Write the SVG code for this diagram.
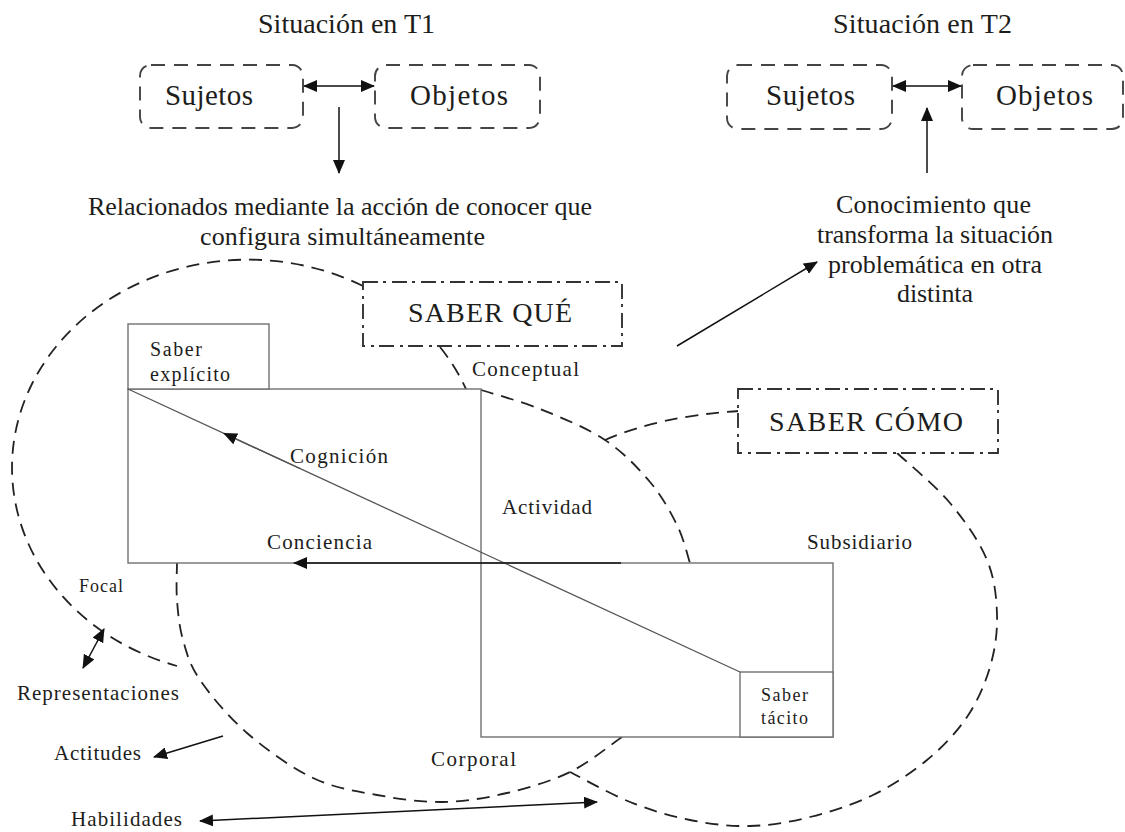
<svg xmlns="http://www.w3.org/2000/svg" width="1125" height="832" viewBox="0 0 1125 832">
<style>
text { font-family: "Liberation Serif", "Times New Roman", serif; fill: #1d1d1b; }
.dash { fill: none; stroke: #222; stroke-width: 1.8; stroke-dasharray: 13 8; }
.tb { fill: #fff; stroke: #444; stroke-width: 1.9; stroke-dasharray: 14 9; }
.dd { fill: #fff; stroke: #333; stroke-width: 1.9; stroke-dasharray: 15 5 3 6; }
.box { fill: #fff; stroke: #707070; stroke-width: 1.4; }
.ln { fill: none; stroke: #111; stroke-width: 1.5; }
.gl { fill: none; stroke: #555; stroke-width: 1.3; }
.t29 { font-size: 29px; }
.t28 { font-size: 28px; }
.t26 { font-size: 26px; }
.t21 { font-size: 21px; }
.t20 { font-size: 20px; }
.t18 { font-size: 18px; }
</style>
<defs>
<marker id="ah" viewBox="0 0 14 12" refX="13" refY="6" markerWidth="14" markerHeight="12" markerUnits="userSpaceOnUse" orient="auto-start-reverse">
<path d="M0,0 L14,6 L0,12 z" fill="#111"/>
</marker>
</defs>
<rect width="1125" height="832" fill="#fff"/>

<g id="circles">
<path class="dash" d="M363,286 A236,208 0 1 0 177,666"/>
<path class="dash" d="M440,347 A236,208 0 0 1 466,389"/>
<path class="dash" d="M481,390 C490.8,393.2 519.3,400.7 540,409 C560.7,417.3 586.7,427.8 605,440 C623.3,452.2 638,467.8 650,482 C662,496.2 670.3,511.5 677,525 C683.7,538.5 687.8,556.7 690,563"/>
<path class="dash" d="M622,737 C613.3,742.8 589.2,762.7 570,772 C550.8,781.3 528.2,788 507,793 C485.8,798 464.7,801.7 443,802 C421.3,802.3 398.7,799 377,795 C355.3,791 334.7,788.3 313,778 C291.3,767.7 265.8,749.3 247,733 C228.2,716.7 210.7,695.5 200,680 C189.3,664.5 186.8,653.3 183,640 C179.2,626.7 178,612.8 177,600 C176,587.2 177,569.2 177,563"/>
<path class="dash" d="M605,440 Q660,416 739,411"/>
<path class="dash" d="M897,453 C905.8,461.3 935,485.2 950,503 C965,520.8 979.2,541.3 987,560 C994.8,578.7 996.5,597.2 997,615 C997.5,632.8 995,650 990,667 C985,684 977.5,701.5 967,717 C956.5,732.5 942.7,747 927,760 C911.3,773 892.5,785.5 873,795 C853.5,804.5 830.5,811.8 810,817 C789.5,822.2 770,825.5 750,826 C730,826.5 710,824 690,820 C670,816 650,810 630,802 C610,794 580,777 570,772"/>
</g>

<g id="t1-sujetos"><rect class="tb" x="140" y="65" width="163" height="63" rx="11"/><text class="t29" x="165" y="105" textLength="88">Sujetos</text></g>
<g id="t1-objetos"><rect class="tb" x="375" y="65" width="165" height="63" rx="11"/><text class="t29" x="410" y="105" textLength="98">Objetos</text></g>
<g id="t2-sujetos"><rect class="tb" x="727" y="65" width="165" height="64" rx="11"/><text class="t29" x="766" y="105" textLength="89">Sujetos</text></g>
<g id="t2-objetos"><rect class="tb" x="962" y="65" width="161" height="64" rx="11"/><text class="t29" x="996" y="105" textLength="97">Objetos</text></g>

<g id="titulos">
<text class="t28" x="258" y="33" textLength="177">Situación en T1</text>
<text class="t28" x="833" y="33" textLength="179">Situación en T2</text>
</g>
<g id="relacionados">
<text class="t26" x="88" y="215" textLength="504">Relacionados mediante la acción de conocer que</text>
<text class="t26" x="200" y="245" textLength="285">configura simultáneamente</text>
</g>
<g id="conocimiento">
<text class="t26" x="836" y="213" textLength="195">Conocimiento que</text>
<text class="t26" x="817" y="243" textLength="236">transforma la situación</text>
<text class="t26" x="828" y="273" textLength="214">problemática en otra</text>
<text class="t26" x="897" y="302" textLength="76">distinta</text>
</g>

<g id="rect-conceptual"><rect class="box" x="128" y="389" width="353" height="174"/></g>
<g id="rect-corporal"><rect class="box" x="481" y="563" width="352" height="174"/></g>
<g id="saber-explicito"><rect class="box" x="128" y="324" width="141" height="65"/>
<text class="t20" x="150" y="356" textLength="52">Saber</text>
<text class="t20" x="150" y="381" textLength="80">explícito</text></g>
<g id="saber-tacito"><rect class="box" x="740" y="672" width="93" height="65"/>
<text class="t18" x="761" y="701" textLength="47">Saber</text>
<text class="t18" x="761" y="724" textLength="47">tácito</text></g>

<g id="saber-que"><rect class="dd" x="363" y="282" width="259" height="64"/><text class="t28" x="408" y="322" textLength="164">SABER QUÉ</text></g>
<g id="saber-como"><rect class="dd" x="738" y="389" width="260" height="64"/><text class="t28" x="769" y="431" textLength="194">SABER CÓMO</text></g>

<g id="labels">
<text class="t21" x="290" y="463" textLength="98">Cognición</text>
<text class="t21" x="267" y="549" textLength="105">Conciencia</text>
<text class="t21" x="472" y="376" textLength="107">Conceptual</text>
<text class="t21" x="502" y="514" textLength="90">Actividad</text>
<text class="t21" x="807" y="549" textLength="105">Subsidiario</text>
<text class="t18" x="79" y="592" textLength="44">Focal</text>
<text class="t21" x="17" y="700" textLength="162">Representaciones</text>
<text class="t21" x="54" y="760" textLength="87">Actitudes</text>
<text class="t21" x="431" y="766" textLength="85">Corporal</text>
<text class="t21" x="71" y="826" textLength="111">Habilidades</text>
</g>

<g id="connectors">
<line class="gl" x1="128" y1="389" x2="740" y2="672"/>
<path class="gl" d="M300,468.5 L224,433.4" marker-end="url(#ah)"/>
<path class="ln" d="M621,563 L294,563" marker-end="url(#ah)"/>
<path class="ln" d="M304,86 L374,86" marker-start="url(#ah)" marker-end="url(#ah)"/>
<path class="ln" d="M339,107 L339,173" marker-end="url(#ah)"/>
<path class="ln" d="M893,86 L961,86" marker-start="url(#ah)" marker-end="url(#ah)"/>
<path class="ln" d="M927,173 L927,108" marker-end="url(#ah)"/>
<path class="ln" d="M677,346 L817,262" marker-end="url(#ah)"/>
<path class="ln" d="M104,629 L83,668" marker-start="url(#ah)" marker-end="url(#ah)"/>
<path class="ln" d="M223,736 L154,757" marker-end="url(#ah)"/>
<path class="ln" d="M200,821 L597,802" marker-start="url(#ah)" marker-end="url(#ah)"/>
</g>
</svg>
